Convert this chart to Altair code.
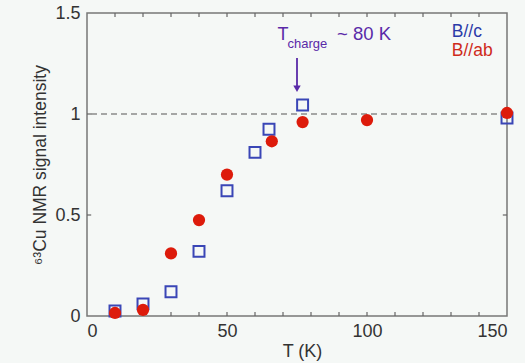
import altair as alt
import pandas as pd

# Measured 63Cu NMR signal intensity vs temperature
blue_T = [10, 20, 30, 40, 50, 60, 65, 77, 150]
blue_I = [0.025, 0.06, 0.12, 0.32, 0.62, 0.81, 0.925, 1.045, 0.98]
red_T = [10, 20, 30, 40, 50, 66, 77, 100, 150]
red_I = [0.015, 0.03, 0.31, 0.475, 0.70, 0.865, 0.96, 0.97, 1.005]

x_labels = [0, 50, 100, 150]
y_labels = [0, 0.5, 1, 1.5]
x_minor = list(range(10, 150, 10))
y_minor = [0.5, 1.0]

FONT = "Liberation Sans"
BLUE = "#3a46b6"
RED = "#dd1b0b"
PURPLE = "#5a2aa8"
BG = "#f5f8f6"

xs = alt.Scale(domain=[0, 150], nice=False)
ys = alt.Scale(domain=[0, 1.5], nice=False)

x_axis = alt.Axis(values=x_labels, format="d", ticks=False, domain=False, grid=False,
                  labelFont=FONT, labelFontSize=18, labelColor="#333", labelPadding=6,
                  title="T (K)", titleFont=FONT, titleFontSize=18, titleFontWeight="normal",
                  titleColor="#333", titlePadding=2, titleX=215)
y_axis = alt.Axis(values=y_labels, format="~g", ticks=False, domain=False, grid=False,
                  labelFont=FONT, labelFontSize=18, labelColor="#333", labelPadding=7,
                  title="⁶³Cu NMR signal intensity", titleFont=FONT, titleFontSize=17.5,
                  titleFontWeight="normal", titleColor="#333", titlePadding=5)

blue_df = pd.DataFrame({"T": blue_T, "I": blue_I})
red_df = pd.DataFrame({"T": red_T, "I": red_I})

base_x = alt.X("T:Q", scale=xs, axis=x_axis)
base_y = alt.Y("I:Q", scale=ys, axis=y_axis)

# reference level at unity
unity = alt.Chart(pd.DataFrame({"I": [1.0]})).mark_rule(
    color="#8a8a8a", strokeDash=[6, 4], strokeWidth=1.5
).encode(y=base_y)

# inward minor ticks on all four sides
tx = pd.DataFrame({"T": x_minor})
ty = pd.DataFrame({"I": y_minor})
tick_style = dict(color="#666", strokeWidth=1.2)
ticks_bottom = alt.Chart(tx).mark_rule(**tick_style).encode(
    x=base_x, y=alt.datum(0), y2=alt.datum(0.02))
ticks_top = alt.Chart(tx).mark_rule(**tick_style).encode(
    x=base_x, y=alt.datum(1.5), y2=alt.datum(1.48))
ticks_left = alt.Chart(ty).mark_rule(**tick_style).encode(
    y=base_y, x=alt.datum(0), x2=alt.datum(1.5))
ticks_right = alt.Chart(ty).mark_rule(**tick_style).encode(
    y=base_y, x=alt.datum(150), x2=alt.datum(148.5))

squares = alt.Chart(blue_df).mark_point(
    shape="square", filled=False, size=120, strokeWidth=2, color=BLUE, opacity=1
).encode(x=base_x, y=base_y)

circles = alt.Chart(red_df).mark_circle(
    size=150, color=RED, opacity=1
).encode(x=base_x, y=base_y)

# T_charge annotation with arrow
one = pd.DataFrame({"k": [0]})
t_main = alt.Chart(one).mark_text(
    text="T", font=FONT, fontSize=18, color=PURPLE, align="left", baseline="alphabetic"
).encode(x=alt.datum(68.0), y=alt.datum(1.366))
t_sub = alt.Chart(one).mark_text(
    text="charge", font=FONT, fontSize=13, color=PURPLE, align="left", baseline="alphabetic"
).encode(x=alt.datum(71.6), y=alt.datum(1.327))
t_val = alt.Chart(one).mark_text(
    text="~ 80 K", font=FONT, fontSize=18.5, color=PURPLE, align="left", baseline="alphabetic"
).encode(x=alt.datum(89.3), y=alt.datum(1.366))
arrow_shaft = alt.Chart(one).mark_rule(color=PURPLE, strokeWidth=1.8).encode(
    x=alt.datum(75), y=alt.datum(1.277), y2=alt.datum(1.13))
arrow_head = alt.Chart(one).mark_point(
    shape="triangle-down", filled=True, size=55, color=PURPLE, opacity=1
).encode(x=alt.datum(75), y=alt.datum(1.125))

# field-direction key
key_c = alt.Chart(one).mark_text(
    text="B//c", font=FONT, fontSize=17.5, color="#2c3aa8", align="left", baseline="alphabetic"
).encode(x=alt.datum(130.3), y=alt.datum(1.383))
key_ab = alt.Chart(one).mark_text(
    text="B//ab", font=FONT, fontSize=17.5, color="#cf2a1a", align="left", baseline="alphabetic"
).encode(x=alt.datum(130.3), y=alt.datum(1.288))

chart = alt.layer(
    unity, ticks_bottom, ticks_top, ticks_left, ticks_right,
    squares, circles, arrow_shaft, arrow_head, t_main, t_sub, t_val, key_c, key_ab
).properties(
    width=420, height=303,
    autosize=alt.AutoSizeParams(type="none"),
    padding={"left": 87, "top": 13, "right": 18, "bottom": 47},
    background=BG,
).configure_view(
    stroke="#777", strokeWidth=1.5, fill=BG
)

chart.save("out.html", embed_options={"renderer": "svg", "actions": False})
